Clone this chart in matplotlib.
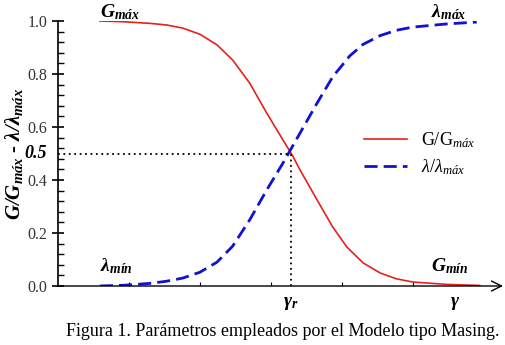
import numpy as np
import matplotlib.pyplot as plt
from matplotlib.ticker import MultipleLocator

plt.rcParams['font.family'] = 'Liberation Serif'
plt.rcParams['mathtext.fontset'] = 'custom'
plt.rcParams['mathtext.rm'] = 'Liberation Serif'
plt.rcParams['mathtext.it'] = 'Liberation Serif:italic'
plt.rcParams['mathtext.bf'] = 'Liberation Serif:bold:italic'

# strain (arbitrary units) and normalised curves
g_x = [0.59, 0.94, 1.30, 1.53, 1.76, 2.00, 2.24, 2.46, 2.70, 2.94, 3.17,
       3.30, 3.41, 3.65, 3.87, 4.07, 4.30, 4.54, 4.77, 5.00, 5.48, 5.94]
g_y = [1.0, 0.997, 0.991, 0.985, 0.973, 0.95, 0.91, 0.853, 0.766, 0.653,
       0.551, 0.494, 0.438, 0.325, 0.223, 0.147, 0.087, 0.049, 0.027, 0.015,
       0.006, 0.002]
l_x = [0.59, 0.94, 1.30, 1.53, 1.76, 2.00, 2.24, 2.46, 2.70, 2.94, 3.17,
       3.41, 3.65, 3.87, 4.11, 4.30, 4.54, 4.77, 5.00, 5.48, 5.90]
l_y = [0.0, 0.003, 0.01, 0.018, 0.03, 0.052, 0.09, 0.15, 0.249, 0.362,
       0.464, 0.577, 0.69, 0.789, 0.868, 0.912, 0.945, 0.965, 0.977, 0.989,
       0.996]
gamma_r = 3.28

fig = plt.figure(figsize=(5.05, 3.45), dpi=100)
ax = fig.add_axes([58 / 505, 59 / 345, 445 / 505, 265 / 345])

ax.plot(g_x, g_y, color='#e8201c', lw=1.2, label=r'G/G$_{\mathit{máx}}$')
ax.plot(l_x, l_y, color='#1010d8', lw=2.0, dashes=(4.7, 2.2),
        label=r'$\lambda$/$\lambda_{\mathit{máx}}$')

ax.plot([0, gamma_r], [0.5, 0.5], color='black', ls=(0, (1, 2)), lw=1.3)
ax.plot([gamma_r, gamma_r], [0, 0.5], color='black', ls=(0, (1, 2)), lw=1.3)

ax.set_xlim(0, 6.27)
ax.set_ylim(0, 1.0)
ax.spines['top'].set_visible(False)
ax.spines['right'].set_visible(False)
ax.spines['bottom'].set_visible(False)
ax.annotate('', xy=(1.0, 0), xytext=(0, 0), xycoords='axes fraction',
            arrowprops=dict(arrowstyle='->', lw=1.0, color='black',
                            mutation_scale=18, shrinkA=0, shrinkB=0))

ax.set_xticks(np.arange(1, 6))
ax.set_xticklabels([])
ax.tick_params(axis='x', direction='in', length=3, width=0.8, bottom=True)
ax.set_yticks([0, 0.2, 0.4, 0.6, 0.8, 1.0])
ax.set_yticklabels(['0.0', '0.2', '0.4', '0.6', '0.8', '1.0'], fontsize=11.5,
                   color='#333333')
ax.yaxis.set_minor_locator(MultipleLocator(0.04))
ax.tick_params(axis='y', which='major', direction='inout', length=8, width=1.2)
ax.tick_params(axis='y', which='minor', direction='in', length=4, width=1.0)
ax.spines['left'].set_linewidth(1.2)

ax.text(-0.025, 0.5, '0.5', transform=ax.get_yaxis_transform(), ha='right',
        va='center', fontsize=13, fontweight='bold', style='italic')
ax.set_ylabel(r'$\mathbf{G/G_{máx}}$ - $\mathbf{\lambda/\lambda_{máx}}$',
              fontsize=15, labelpad=2)

ax.text(gamma_r, -0.035, r'$\mathbf{\gamma_r}$', ha='center', va='top',
        fontsize=14)
ax.text(5.6, -0.035, r'$\mathbf{\gamma}$', ha='center', va='top', fontsize=14)

ax.text(0.59, 1.015, r'$\mathbf{G_{máx}}$', ha='left', va='baseline',
        fontsize=14)
ax.text(5.25, 1.015, r'$\mathbf{\lambda_{máx}}$', ha='left', va='baseline',
        fontsize=14)
ax.text(0.59, 0.055, r'$\mathbf{\lambda_{mín}}$', ha='left', va='baseline',
        fontsize=14)
ax.text(5.25, 0.055, r'$\mathbf{G_{mín}}$', ha='left', va='baseline',
        fontsize=14)

ax.legend(loc='center left', bbox_to_anchor=(0.65, 0.50), frameon=False,
          fontsize=13, handlelength=2.4, labelspacing=0.4)

fig.text(0.56, 0.038, 'Figura 1. Parámetros empleados por el Modelo tipo Masing.',
         ha='center', va='center', fontsize=13)

fig.savefig('out.png', dpi=100)
